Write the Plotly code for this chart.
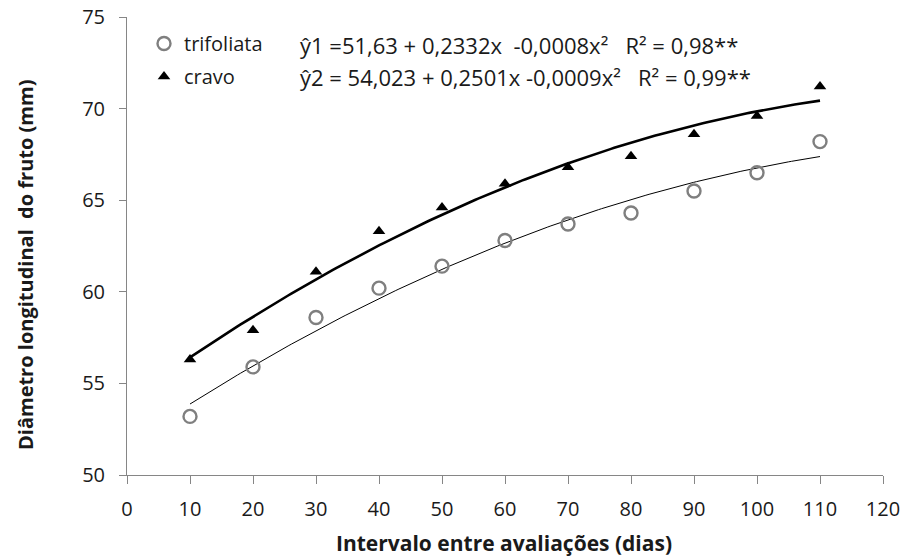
import numpy as np
import plotly.graph_objects as go

dias = [10, 20, 30, 40, 50, 60, 70, 80, 90, 100, 110]
trifoliata = [53.2, 55.9, 58.6, 60.2, 61.4, 62.8, 63.7, 64.3, 65.5, 66.5, 68.2]
cravo = [56.3, 57.9, 61.1, 63.3, 64.6, 65.9, 66.8, 67.4, 68.6, 69.6, 71.2]
eq1 = "ŷ1 =51,63 + 0,2332x  -0,0008x²   R² = 0,98**"
eq2 = "ŷ2 = 54,023 + 0,2501x -0,0009x²   R² = 0,99**"

FONT = "Open Sans"
TXT = "#1a1a1a"

xs = np.linspace(min(dias), max(dias), 200)
fit1 = np.polyval(np.polyfit(dias, trifoliata, 2), xs)
fit2 = np.polyval(np.polyfit(dias, cravo, 2), xs)

fig = go.Figure()
fig.add_trace(go.Scatter(x=xs, y=fit2, mode="lines", line=dict(color="black", width=2.6),
                         showlegend=False, hoverinfo="skip"))
fig.add_trace(go.Scatter(x=xs, y=fit1, mode="lines", line=dict(color="black", width=1),
                         showlegend=False, hoverinfo="skip"))
fig.add_trace(go.Scatter(x=dias, y=trifoliata, mode="markers", name="trifoliata",
                         legendgroup="a",
                         marker=dict(symbol="circle-open", size=13, color="#7f7f7f",
                                     line=dict(width=2.4, color="#7f7f7f"))))
fig.add_trace(go.Scatter(x=dias, y=cravo, mode="markers", name="cravo",
                         legendgroup="b",
                         marker=dict(symbol="triangle-up", size=11, color="black")))

axis_color = "#868686"
L, R, T, B = 127, 23, 17, 85
PW, PH = 906 - L - R, 560 - T - B
fig.update_layout(
    width=906, height=560,
    margin=dict(l=L, r=R, t=T, b=B),
    plot_bgcolor="white", paper_bgcolor="white",
    font=dict(family=FONT, size=18, color=TXT),
    showlegend=True,
    legend=dict(x=(144 - L) / PW, y=(475 - 24) / PH, xanchor="left", yanchor="top",
                font=dict(family=FONT, size=20, color=TXT),
                tracegroupgap=4, itemwidth=30, bgcolor="rgba(0,0,0,0)"),
    xaxis=dict(range=[0, 120], tickvals=list(range(0, 121, 10)),
               showgrid=False, zeroline=False, showline=True, linecolor=axis_color,
               ticks="outside", ticklen=8, tickcolor=axis_color,
               tickfont=dict(size=20, color=TXT), ticklabelstandoff=8,
               automargin=False),
    yaxis=dict(range=[50, 75], tickvals=[50, 55, 60, 65, 70, 75],
               showgrid=False, zeroline=False, showline=True, linecolor=axis_color,
               ticks="outside", ticklen=7, tickcolor=axis_color,
               tickfont=dict(size=20, color=TXT), ticklabelstandoff=10,
               automargin=False),
)
# axis titles
fig.add_annotation(x=(504 - L) / PW, y=(475 - 543) / PH, xref="paper", yref="paper",
                   text="<b>Intervalo entre avaliações (dias)</b>", showarrow=False,
                   xanchor="center", yanchor="middle",
                   font=dict(family=FONT, size=21, color=TXT))
fig.add_annotation(x=(25 - L) / PW, y=(475 - 265) / PH, xref="paper", yref="paper",
                   text="<b>Diâmetro longitudinal  do fruto (mm)</b>", showarrow=False,
                   textangle=-90, xanchor="center", yanchor="middle",
                   font=dict(family=FONT, size=20, color=TXT))
# regression equations
fig.add_annotation(x=(298 - L) / PW, y=(475 - 45) / PH, xref="paper", yref="paper",
                   text=eq1, showarrow=False, xanchor="left", yanchor="middle",
                   font=dict(family=FONT, size=22, color=TXT))
fig.add_annotation(x=(298 - L) / PW, y=(475 - 77) / PH, xref="paper", yref="paper",
                   text=eq2, showarrow=False, xanchor="left", yanchor="middle",
                   font=dict(family=FONT, size=22, color=TXT))

fig.write_html("out.html", config={"displayModeBar": False})
with open("out.html", encoding="utf-8") as f:
    html = f.read()
html = html.replace("<head>", "<head><style>html,body{margin:0;padding:0;overflow:hidden;}</style>", 1)
with open("out.html", "w", encoding="utf-8") as f:
    f.write(html)
